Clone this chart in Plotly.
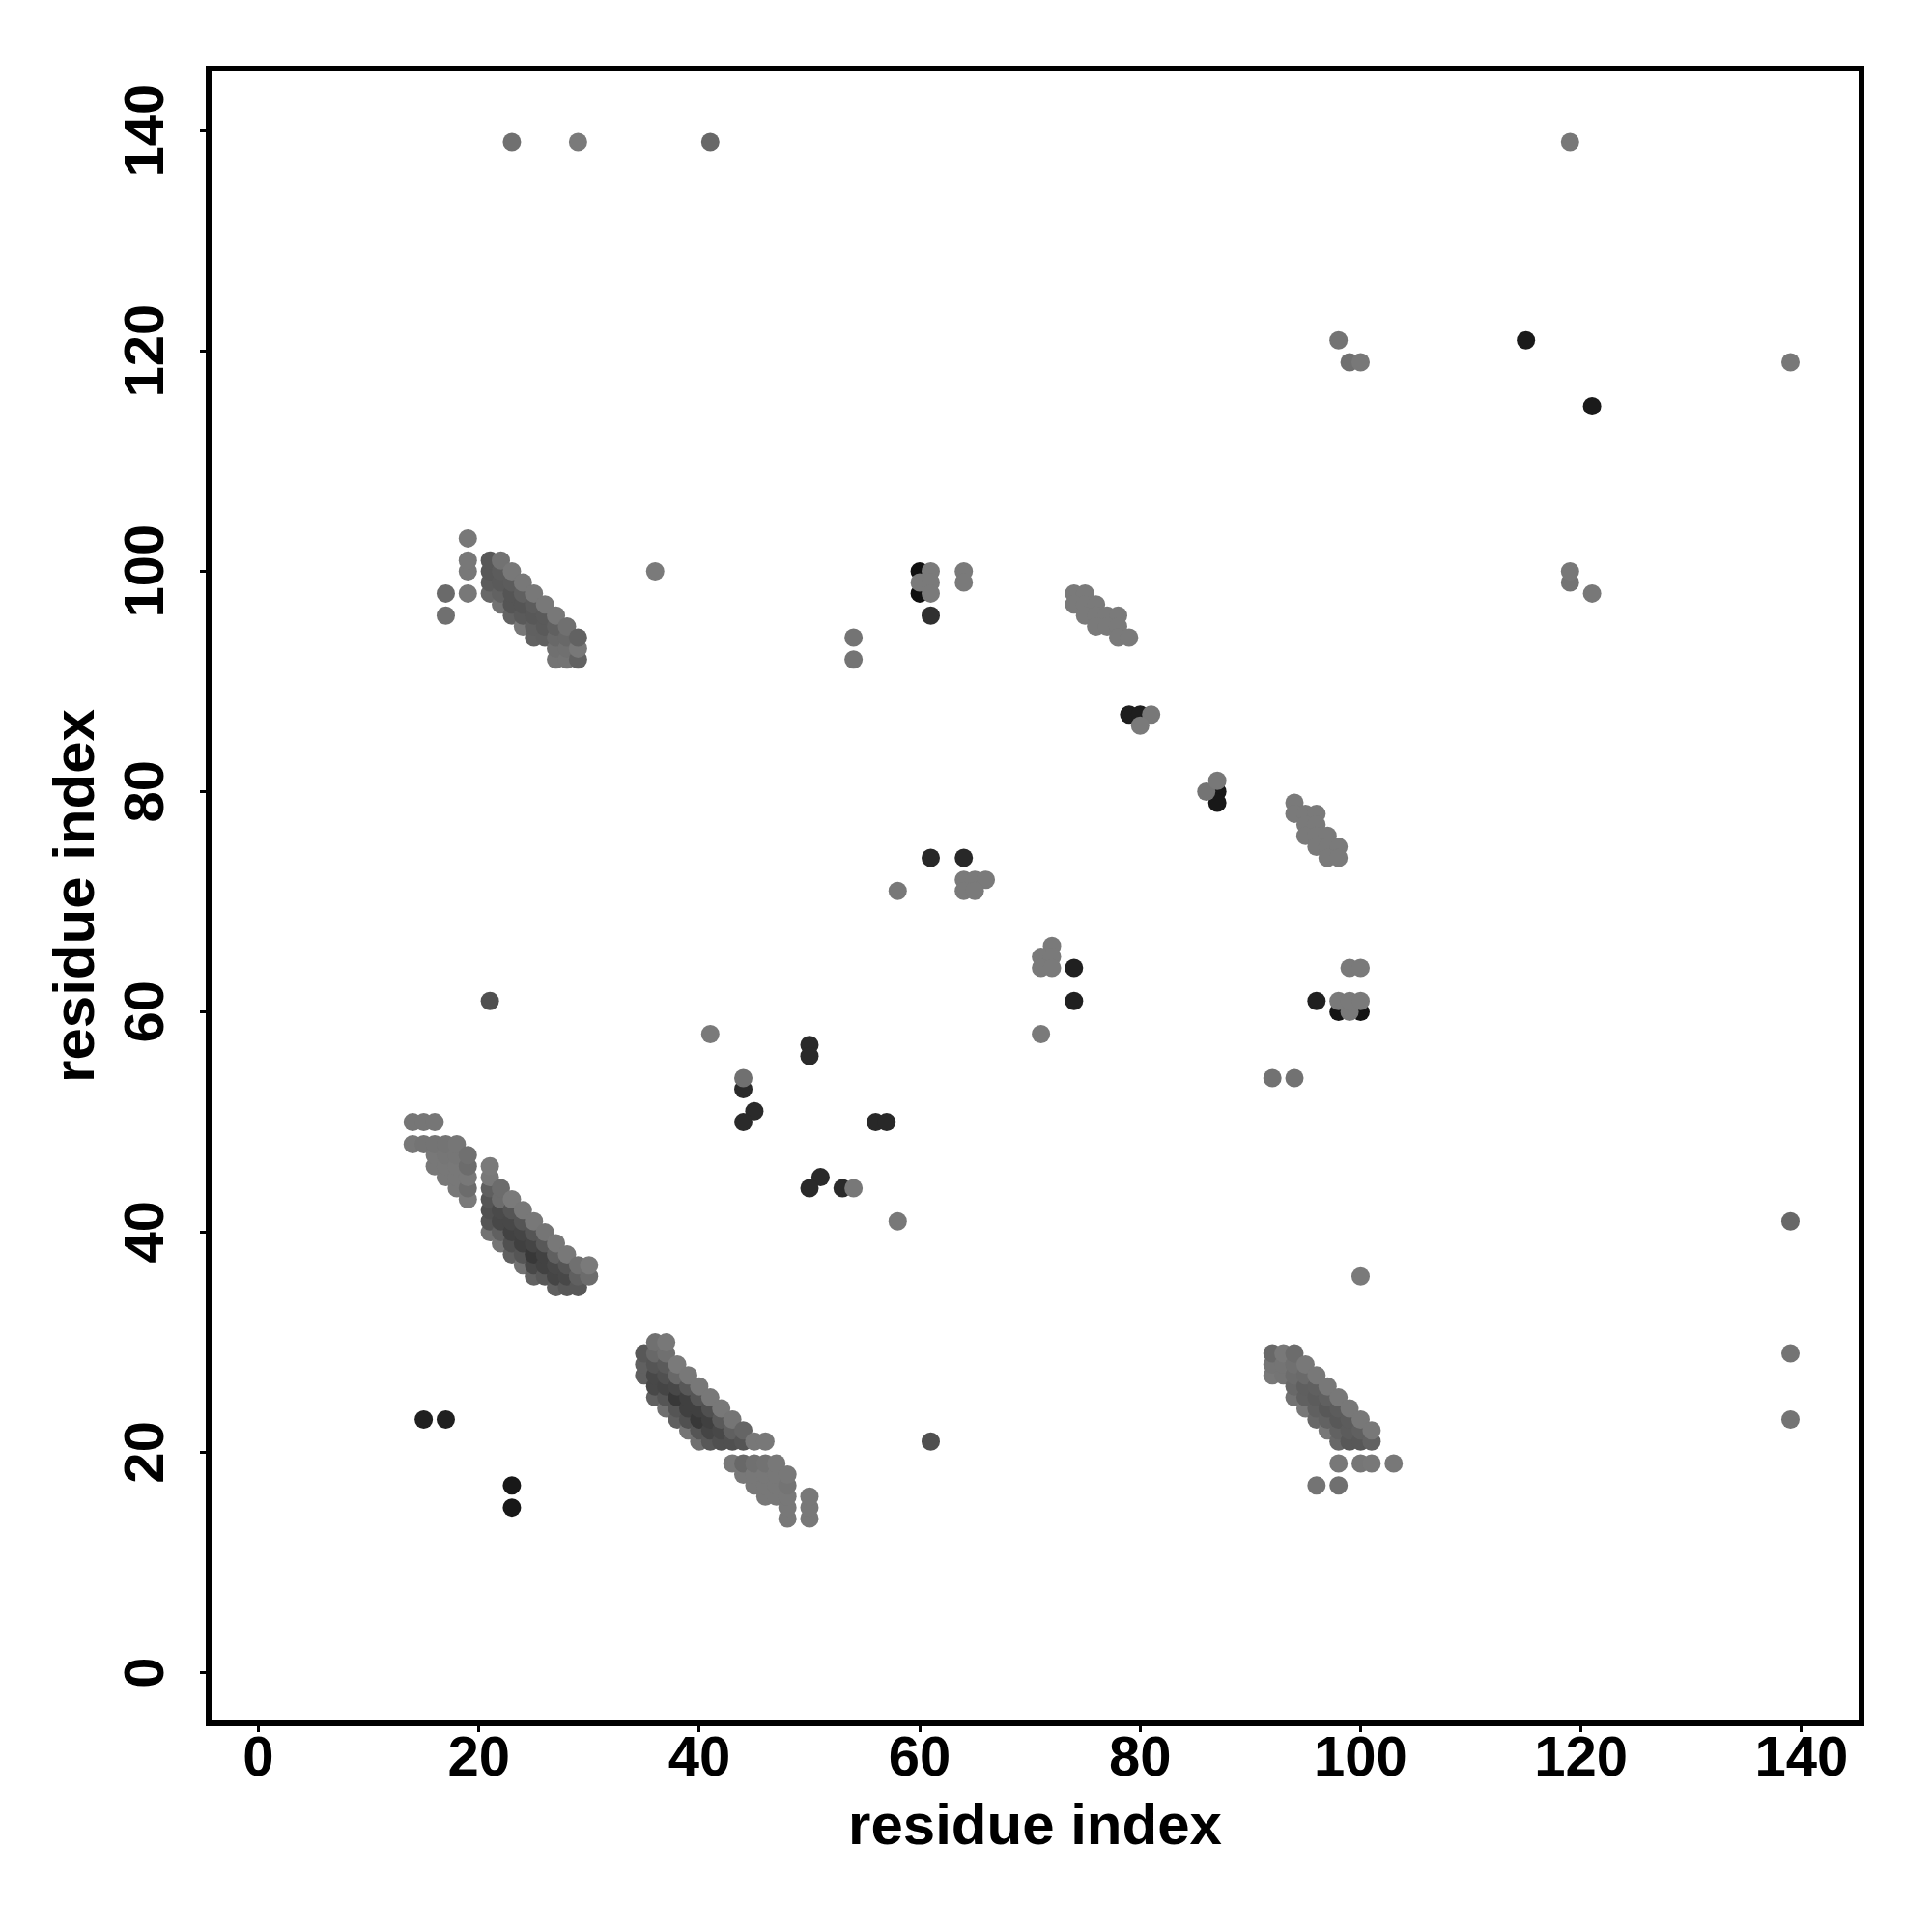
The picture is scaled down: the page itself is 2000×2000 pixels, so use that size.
import plotly.graph_objects as go

# Cluster A: upper-left wing and core near (25, 40)
a_x = [14,15,16, 14,15,16,17,18, 16,17,18,19, 16,17,18,19, 17,18,19, 18,19, 19,
       21, 21, 21,22, 21,22,23, 21,22,23,24, 21,22,23,24,25, 21,22,23,24,25,26,
       22,23,24,25,26,27, 23,24,25,26,27,28, 24,25,26,27,28,29,30, 25,26,27,28,29,30, 27,28,29]
a_y = [50,50,50, 48,48,48,48,48, 47,47,47,47, 46,46,46,46, 45,45,45, 44,44, 43,
       46, 45, 44,44, 43,43,43, 42,42,42,42, 41,41,41,41,41, 40,40,40,40,40,40,
       39,39,39,39,39,39, 38,38,38,38,38,38, 37,37,37,37,37,37,37, 36,36,36,36,36,36, 35,35,35]
a_g = [0x76,0x76,0x76, 0x78,0x74,0x74,0x74,0x76, 0x78,0x76,0x76,0x70, 0x78,0x78,0x78,0x6c, 0x78,0x78,0x78, 0x78,0x6c, 0x7a,
       0x7a, 0x78, 0x5f,0x6c, 0x55,0x6c,0x7a, 0x50,0x4a,0x55,0x78, 0x55,0x48,0x48,0x55,0x78, 0x72,0x60,0x42,0x45,0x55,0x75,
       0x75,0x50,0x40,0x45,0x58,0x78, 0x60,0x55,0x38,0x42,0x60,0x78, 0x72,0x48,0x42,0x48,0x55,0x70,0x7a, 0x62,0x58,0x45,0x48,0x60,0x6c, 0x60,0x58,0x58]

# Cluster B: core near (40, 25) and its tail
b_x = [36,37, 35,36,37, 35,36,37,38, 35,36,37,38,39, 36,37,38,39,40, 36,37,38,39,40,41,
       37,38,39,40,41,42, 38,39,40,41,42,43, 39,40,41,42,43,44, 40,41,42,43,44,45,46,
       43,44,45,46,47, 44,45,46,47,48, 45,46,47,48, 46,47,48,50, 48,50, 48,50]
b_y = [30,30, 29,29,29, 28,28,28,28, 27,27,27,27,27, 26,26,26,26,26, 25,25,25,25,25,25,
       24,24,24,24,24,24, 23,23,23,23,23,23, 22,22,22,22,22,22, 21,21,21,21,21,21,21,
       19,19,19,19,19, 18,18,18,18,18, 17,17,17,17, 16,16,16,16, 15,15, 14,14]
b_g = [0x70,0x78, 0x58,0x68,0x70, 0x60,0x55,0x5a,0x7a, 0x60,0x48,0x50,0x68,0x78, 0x48,0x45,0x48,0x58,0x78, 0x60,0x55,0x38,0x40,0x55,0x78,
       0x70,0x55,0x40,0x40,0x50,0x78, 0x60,0x50,0x38,0x40,0x5a,0x75, 0x75,0x55,0x45,0x48,0x60,0x65, 0x70,0x58,0x50,0x50,0x55,0x78,0x78,
       0x78,0x68,0x70,0x72,0x78, 0x78,0x78,0x78,0x78,0x78, 0x78,0x78,0x78,0x74, 0x78,0x78,0x78,0x78, 0x78,0x78, 0x78,0x78]

# Cluster C: near (97, 24)
c_x = [92,93,94, 92,93,94,95, 92,93,94,95,96, 94,95,96,97, 94,95,96,97,98, 95,96,97,98,99,
       96,97,98,99,100, 97,98,99,100,101, 98,99,100,101, 98,100,101,103, 96,98]
c_y = [29,29,29, 28,28,28,28, 27,27,27,27,27, 26,26,26,26, 25,25,25,25,25, 24,24,24,24,24,
       23,23,23,23,23, 22,22,22,22,22, 21,21,21,21, 19,19,19,19, 17,17]
c_g = [0x68,0x78,0x6c, 0x74,0x74,0x70,0x78, 0x78,0x74,0x6c,0x6a,0x78, 0x68,0x5f,0x60,0x78, 0x72,0x60,0x5c,0x60,0x78, 0x78,0x60,0x58,0x5c,0x78,
       0x68,0x62,0x58,0x5c,0x78, 0x78,0x62,0x5c,0x60,0x78, 0x68,0x58,0x58,0x62, 0x78,0x76,0x78,0x78, 0x74,0x70]

# Cluster D: near (25, 97)
d_x = [19,19,19,19, 17,17, 21,22, 21,22,23, 21,22,23,24, 21,22,23,24,25, 22,23,24,25,26,
       23,24,25,26,27, 24,25,26,27,28, 25,26,27,28,29, 27,28,29, 27,28,29]
d_y = [103,101,100,98, 98,96, 101,101, 100,100,100, 99,99,99,99, 98,98,98,98,98, 97,97,97,97,97,
       96,96,96,96,96, 95,95,95,95,95, 94,94,94,94,94, 93,93,93, 92,92,92]
d_g = [0x78,0x78,0x78,0x78, 0x6a,0x70, 0x58,0x72, 0x58,0x5c,0x78, 0x5c,0x5a,0x5c,0x78, 0x68,0x62,0x55,0x60,0x78, 0x72,0x55,0x55,0x5c,0x78,
       0x62,0x5a,0x58,0x5a,0x78, 0x78,0x60,0x5a,0x60,0x70, 0x62,0x60,0x68,0x68,0x62, 0x70,0x70,0x78, 0x74,0x74,0x62]

# Small light clusters
e_x = [74,75, 74,75,76, 75,76,77,78, 76,77,78, 78,79,
       94, 94,95,96, 95,96, 95,96,97, 96,97,98, 97,98,
       64,65,66, 64,65, 72, 71,72, 71,72,
       99,100, 98,99,100, 60,61,61,61,64,64]
e_y = [98,98, 97,97,97, 96,96,96,96, 95,95,95, 94,94,
       79, 78,78,78, 77,77, 76,76,76, 75,75,75, 74,74,
       72,72,72, 71,71, 66, 65,65, 64,64,
       64,64, 61,61,61, 99,100,99,98,100,99]
e_g = [0x7a]*14 + [0x7a]*14 + [0x7a]*5 + [0x7a]*5 + [0x7a]*5 + [0x7a]*6

# Isolated points
f_x = [23,29,41,119, 98,99,100,139, 36,54,54,119,119,121, 81,80, 86,87, 58, 21, 41, 44, 92,94, 54, 58, 139, 100, 139,139, 61, 71, 99]
f_y = [139,139,139,139, 121,119,119,119, 100,94,92,100,99,98, 87,86, 80,81, 71, 61, 58, 54, 54,54, 44, 41, 41, 36, 29,23, 21, 58, 60]
f_g = [0x70,0x7a,0x68,0x78, 0x74,0x70,0x78,0x78, 0x7a,0x74,0x74,0x78,0x74,0x78, 0x78,0x7a, 0x74,0x78, 0x78, 0x50, 0x7a, 0x70, 0x72,0x72, 0x78, 0x78, 0x68, 0x7a, 0x74,0x74, 0x50, 0x7a, 0x7a]

# Near-black points
k_x = [115,121, 60,60,61, 79,80, 87,87, 61,64, 74,74, 96,98,100, 50,50, 44,45,44, 56,57, 51,50,53, 15,17, 23,23]
k_y = [121,115, 100,98,96, 87,87, 80,79, 74,74, 64,61, 61,60,60, 57,56, 53,51,50, 50,50, 45,44,44, 23,23, 17,15]
k_g = [0x1a,0x1a, 0x10,0x10,0x30, 0x1e,0x1e, 0x18,0x18, 0x28,0x28, 0x20,0x20, 0x20,0x14,0x14, 0x2a,0x2a, 0x2a,0x2a,0x2a, 0x28,0x28, 0x2a,0x2a,0x2a, 0x20,0x20, 0x18,0x18]

tick_values = [0, 20, 40, 60, 80, 100, 120, 140]
axis_label = "residue index"

# Draw order: near-black first, then the light isolated points over them,
# then the dense clusters column by column (later columns on top).
sparse = sorted(zip(k_x + f_x + e_x, k_y + f_y + e_y, k_g + f_g + e_g), key=lambda p: p[2])
dense = sorted(zip(a_x + b_x + c_x + d_x, a_y + b_y + c_y + d_y, a_g + b_g + c_g + d_g),
               key=lambda p: (p[0], p[1]))
points = sparse + dense

fig = go.Figure(go.Scatter(
    x=[p[0] for p in points],
    y=[p[1] for p in points],
    mode="markers",
    marker=dict(size=19, line=dict(width=0),
                color=[f"rgb({p[2]},{p[2]},{p[2]})" for p in points]),
    hoverinfo="skip",
))

font = dict(family="Liberation Sans", size=58, color="black", weight="bold")
title_font = dict(font, size=60)
axis = dict(
    tickmode="array", tickvals=tick_values, ticktext=[str(v) for v in tick_values],
    showgrid=False, zeroline=False, showline=True, mirror=True,
    linecolor="black", linewidth=6, ticks="outside", ticklen=6, tickwidth=3,
    tickcolor="black", tickfont=font,
)
fig.update_layout(
    width=2000, height=2000, showlegend=False,
    paper_bgcolor="white", plot_bgcolor="white",
    margin=dict(l=211, r=84, t=66, b=227, autoexpand=False),
    xaxis=dict(axis, range=[-4.25, 145.18], ticklabelstandoff=-25,
               title=dict(text=axis_label, font=title_font, standoff=20)),
    yaxis=dict(axis, range=[-4.33, 145.4], showticklabels=False,
               title=dict(text=axis_label, font=title_font, standoff=92)),
)
for v in tick_values:
    fig.add_annotation(text=str(v), xref="paper", yref="y", x=0, y=v, xshift=-70,
                       xanchor="center", yanchor="middle", textangle=-90,
                       showarrow=False, font=font, borderpad=0)
fig.write_html("out.html")
